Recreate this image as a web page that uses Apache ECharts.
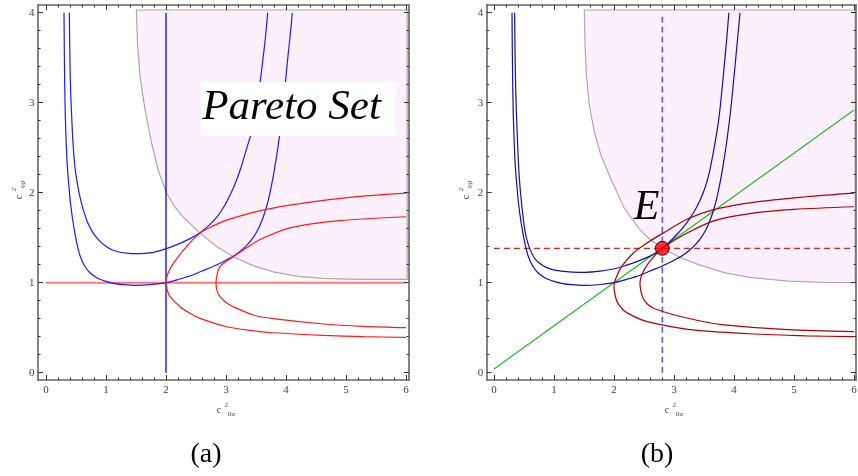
<!DOCTYPE html>
<html><head><meta charset="utf-8">
<script src="https://cdn.jsdelivr.net/npm/echarts/dist/echarts.min.js"></script>
<style>html,body{margin:0;padding:0;background:#fff}#c{width:858px;height:476px}</style>
</head><body><div id="c"></div>
<script>
const xMajorTicks = [0,1,2,3,4,5,6];
const xTickLabels = ['0','1','2','3','4','5','6'];
const xMinorTicks = [0.2,0.4,0.6,0.8,1.2,1.4,1.6,1.8,2.2,2.4,2.6,2.8,3.2,3.4,3.6,3.8,4.2,4.4,4.6,4.8,5.2,5.4,5.6,5.8];
const yMajorTicks = [0,1,2,3,4];
const yTickLabels = ['0','1','2','3','4'];
const yMinorTicks = [0.2,0.4,0.6,0.8,1.2,1.4,1.6,1.8,2.2,2.4,2.6,2.8,3.2,3.4,3.6,3.8];
const panelCaptions = ['(a)','(b)'];
const paretoLabel = 'Pareto Set';
const pointLabel = 'E';

// ---- panel (a) ----
const aPareto = [[1.506,4.03],[6.02,4.03],[6.02,1.037],[5.46,1.037],[5.0,1.04],[4.62,1.048],[4.2,1.07],[3.79,1.12],[3.45,1.19],[3.122,1.289],[2.85,1.40],[2.567,1.551],[2.30,1.72],[2.15,1.84],[2.006,2.0],[1.87,2.25],[1.76,2.55],[1.65,2.92],[1.567,3.29],[1.525,3.66],[1.506,4.03]];
const aBlueVertical = [[2,0],[2,4]];
const aRedHorizontal = [[0,1],[6,1]];
const aBlueInner = [[0.389,4.0],[0.398,3.5],[0.412,3.1],[0.428,2.85],[0.45,2.55],[0.48,2.3],[0.511,2.15],[0.56,1.97],[0.622,1.81],[0.70,1.66],[0.789,1.548],[0.90,1.46],[1.011,1.40],[1.122,1.36],[1.233,1.338],[1.37,1.326],[1.511,1.322],[1.65,1.326],[1.789,1.337],[2.006,1.378],[2.233,1.437],[2.40,1.49],[2.567,1.556],[2.72,1.64],[2.86,1.74],[2.98,1.86],[3.08,1.99],[3.17,2.13],[3.25,2.28],[3.33,2.46],[3.42,2.66],[3.49,2.88],[3.55,3.13],[3.60,3.40],[3.65,3.68],[3.695,4.0]];
const aBlueOuter = [[0.30,4.0],[0.305,3.6],[0.312,3.2],[0.322,2.85],[0.34,2.5],[0.36,2.25],[0.385,2.05],[0.405,1.9],[0.456,1.65],[0.51,1.45],[0.567,1.30],[0.65,1.18],[0.733,1.11],[0.86,1.05],[1.011,1.012],[1.15,0.99],[1.289,0.978],[1.511,0.970],[1.733,0.978],[2.006,1.0],[2.2,1.035],[2.4,1.075],[2.6,1.13],[2.85,1.20],[3.0,1.25],[3.122,1.295],[3.25,1.355],[3.36,1.425],[3.46,1.51],[3.54,1.60],[3.61,1.71],[3.67,1.83],[3.72,1.96],[3.77,2.12],[3.815,2.29],[3.86,2.48],[3.905,2.70],[3.95,2.95],[3.99,3.22],[4.03,3.50],[4.07,3.75],[4.105,4.0]];
const aRedInner = [[6.0,1.996],[5.178,1.956],[4.344,1.889],[3.62,1.807],[3.011,1.696],[2.75,1.62],[2.567,1.551],[2.344,1.404],[2.122,1.215],[2.03,1.1],[2.0,1.0],[2.03,0.9],[2.067,0.844],[2.233,0.733],[2.40,0.66],[2.567,0.604],[3.011,0.511],[3.40,0.47],[3.789,0.444],[4.622,0.415],[5.3,0.40],[6.0,0.393]];
const aRedOuter = [[6.0,1.733],[4.9,1.69],[4.067,1.61],[3.567,1.48],[3.35,1.39],[3.122,1.289],[3.0,1.235],[2.9,1.178],[2.855,1.10],[2.833,1.0],[2.855,0.90],[2.9,0.844],[3.0,0.78],[3.122,0.733],[3.456,0.641],[3.789,0.60],[4.622,0.541],[5.3,0.515],[6.0,0.50]];

// ---- panel (b) ----
const bPareto = [[1.506,4.03],[6.02,4.03],[6.02,1.0],[5.5,1.003],[4.9,1.018],[4.267,1.06],[3.85,1.11],[3.433,1.195],[3.1,1.28],[2.806,1.382],[2.6,1.48],[2.433,1.586],[2.17,1.83],[1.95,2.15],[1.78,2.42],[1.67,2.68],[1.59,2.97],[1.54,3.3],[1.515,3.68],[1.506,4.03]];
const bGreen = [[0,0.04],[6,2.92]];
const bPointE = [2.806,1.382];
const bRedDashed = [[0,1.382],[6,1.382]];
const bBlueDashed = [[2.806,0],[2.806,4]];
const bBlueInner = [[0.344,4.0],[0.35,3.6],[0.36,3.2],[0.372,2.92],[0.39,2.6],[0.41,2.3],[0.435,2.05],[0.47,1.82],[0.50,1.65],[0.539,1.50],[0.60,1.37],[0.67,1.28],[0.733,1.23],[0.87,1.17],[1.011,1.14],[1.25,1.12],[1.511,1.115],[1.767,1.128],[2.011,1.155],[2.2,1.193],[2.4,1.24],[2.6,1.295],[2.71,1.335],[2.806,1.382],[2.92,1.45],[3.04,1.53],[3.16,1.62],[3.27,1.72],[3.37,1.83],[3.45,1.94],[3.52,2.06],[3.58,2.20],[3.63,2.36],[3.68,2.54],[3.73,2.74],[3.77,2.95],[3.805,3.18],[3.84,3.43],[3.877,3.70],[3.915,4.0]];
const bBlueOuter = [[0.30,4.0],[0.305,3.6],[0.312,3.2],[0.322,2.85],[0.34,2.5],[0.36,2.25],[0.385,2.05],[0.405,1.9],[0.456,1.65],[0.51,1.45],[0.567,1.30],[0.65,1.18],[0.733,1.11],[0.86,1.05],[1.011,1.012],[1.15,0.99],[1.289,0.978],[1.511,0.970],[1.767,0.98],[2.0,1.0],[2.2,1.035],[2.4,1.075],[2.6,1.13],[2.85,1.20],[3.0,1.25],[3.122,1.295],[3.25,1.355],[3.36,1.425],[3.46,1.51],[3.54,1.60],[3.61,1.71],[3.67,1.83],[3.72,1.96],[3.77,2.12],[3.815,2.29],[3.86,2.48],[3.905,2.70],[3.95,2.95],[3.99,3.22],[4.03,3.50],[4.065,3.75],[4.1,4.0]];
const bRedOuter = [[6.0,1.996],[5.2,1.955],[4.344,1.895],[3.633,1.807],[3.233,1.71],[2.81,1.548],[2.5,1.42],[2.322,1.33],[2.15,1.20],[2.05,1.08],[2.0,0.956],[2.03,0.83],[2.067,0.77],[2.15,0.70],[2.233,0.659],[2.45,0.59],[2.678,0.548],[3.233,0.481],[3.8,0.45],[4.344,0.43],[5.2,0.41],[6.0,0.40]];
const bRedInner = [[6.0,1.844],[5.0,1.815],[4.344,1.775],[3.678,1.69],[3.211,1.549],[2.806,1.382],[2.6,1.24],[2.50,1.14],[2.45,1.06],[2.433,0.993],[2.45,0.90],[2.483,0.83],[2.56,0.76],[2.678,0.71],[3.011,0.641],[3.4,0.58],[3.789,0.535],[4.9,0.478],[6.0,0.456]];

const chart = echarts.init(document.getElementById('c'), null, {renderer:'canvas'});
const serif = '"Liberation Serif", "DejaVu Serif", serif';
const frameStyle = {color:'#666', width:1.6};
const tickStyle = {color:'#333', width:1};

// pixel frame of each panel -> data range just outside 0..6 / 0..4
const xRanges = [[-0.1333, 6.05], [-0.1217, 6.0333]];
const yRange = [-0.0811, 4.0856];

function axis(dim, grid, pos, ticks, len, showLine, labels){
  const r = dim === 'x' ? xRanges[grid] : yRange;
  const a = {type:'value', gridIndex:grid, position:pos, min:r[0], max:r[1], z:80,
    axisLine:{show:showLine, onZero:false, lineStyle:frameStyle},
    axisTick:{show:true, inside:true, length:len, customValues:ticks, lineStyle:tickStyle},
    minorTick:{show:false}, splitLine:{show:false}, minorSplitLine:{show:false},
    axisLabel:{show:false}};
  if (labels) {
    const names = dim === 'x' ? xTickLabels : yTickLabels;
    a.axisLabel = {show:true, customValues:ticks, margin: dim === 'x' ? 5 : 3.5, color:'#444',
      fontFamily:serif, fontSize:11, formatter: v => names[ticks.indexOf(v)]};
  }
  return a;
}
function xAxes(g){
  return [axis('x',g,'bottom',xMajorTicks,5,true,true), axis('x',g,'bottom',xMinorTicks,2.5,false,false),
          axis('x',g,'top',xMajorTicks,5,true,false), axis('x',g,'top',xMinorTicks,2.5,false,false)];
}
function yAxes(g){
  return [axis('y',g,'left',yMajorTicks,5,true,true), axis('y',g,'left',yMinorTicks,2.5,false,false),
          axis('y',g,'right',yMajorTicks,5,true,false), axis('y',g,'right',yMinorTicks,2.5,false,false)];
}
function line(data, xi, yi, color, width, type, z){
  return {type:'line', xAxisIndex:xi, yAxisIndex:yi, data:data, showSymbol:false, symbol:'none',
    smooth:0.3, clip:false, silent:true, lineStyle:{color:color, width:width, type:type||'solid'}, z:z||3};
}
function pareto(data, xi, yi, fill, stroke){
  return {type:'custom', xAxisIndex:xi, yAxisIndex:yi, data:data, clip:false, z:1, silent:true,
    encode:{x:0, y:1},
    renderItem: function(params, api){
      if (params.dataIndex !== 0) return null;
      const pts = data.map(p => api.coord(p));
      return {type:'polygon', shape:{points:pts}, style:{fill:fill, stroke:stroke, lineWidth:1.2}};
    }};
}
function axTitle(x, y, greek, rot){
  return {type:'text', x:x, y:y, rotation:rot||0, z:50,
    style:{text:'{c|c} {s|2}{b|0}{g|' + greek + '}', align:'center', verticalAlign:'middle',
      rich:{
        c:{fontFamily:serif, fontSize:10, fill:'#444', lineHeight:16, verticalAlign:'middle'},
        s:{fontFamily:serif, fontSize:7, fill:'#444', lineHeight:16, verticalAlign:'top'},
        b:{fontFamily:serif, fontSize:7, fill:'#444', lineHeight:16, verticalAlign:'bottom'},
        g:{fontFamily:serif, fontSize:7, fontStyle:'italic', fill:'#444', lineHeight:16, verticalAlign:'bottom'}
      }}};
}

const A = 0, B = 4; // first axis index of each panel
const option = {
  animation:false,
  backgroundColor:'#fff',
  grid:[
    {left:38, top:5, width:371, height:375, outerBoundsMode:'none', containLabel:false},
    {left:486.7, top:5, width:369.3, height:375, outerBoundsMode:'none', containLabel:false}
  ],
  xAxis: xAxes(0).concat(xAxes(1)),
  yAxis: yAxes(0).concat(yAxes(1)),
  series:[
    pareto(aPareto,A,A,'#fdf0fd','#a9a9a9'),
    line(aBlueVertical,A,A,'#0000ff',1.3),
    line(aRedHorizontal,A,A,'#ff7777',2),
    line(aBlueInner,A,A,'#1a1aff',1.2),
    line(aBlueOuter,A,A,'#1a1aff',1.2),
    line(aRedInner,A,A,'#ff1a1a',1.2),
    line(aRedOuter,A,A,'#ff1a1a',1.2),

    pareto(bPareto,B,B,'#fdf0fd','#b5a5b5'),
    line(bGreen,B,B,'#22bb22',1.2),
    line(bRedDashed,B,B,'#dd2222',1.3,[6,4]),
    line(bBlueDashed,B,B,'#5a5ae0',1.6,[6,4]),
    line(bBlueInner,B,B,'#1010b0',1.2),
    line(bBlueOuter,B,B,'#1010b0',1.2),
    line(bRedInner,B,B,'#b00000',1.2),
    line(bRedOuter,B,B,'#b00000',1.2),
    {type:'scatter', xAxisIndex:B, yAxisIndex:B, data:[bPointE], symbol:'circle', symbolSize:14,
      itemStyle:{color:'#ff0000', borderColor:'#000', borderWidth:1}, z:10, silent:true}
  ],
  graphic:[
    {type:'rect', z:70, shape:{x:201, y:82, width:195, height:54}, style:{fill:'#fff'}},
    {type:'text', z:71, x:291.5, y:108, style:{text:paretoLabel, font:'italic 43px ' + serif, fill:'#000', align:'center', verticalAlign:'middle'}},
    {type:'text', z:71, x:646.5, y:207.5, style:{text:pointLabel, font:'italic 42px ' + serif, fill:'#000', align:'center', verticalAlign:'middle'}},
    axTitle(226, 410, 'α'),
    axTitle(674, 410, 'α'),
    axTitle(19, 190, 'β', Math.PI/2),
    axTitle(466, 190, 'β', Math.PI/2),
    {type:'text', z:50, x:206, y:455, style:{text:panelCaptions[0], font:'28px ' + serif, fill:'#000', align:'center', verticalAlign:'middle'}},
    {type:'text', z:50, x:657, y:455, style:{text:panelCaptions[1], font:'28px ' + serif, fill:'#000', align:'center', verticalAlign:'middle'}}
  ]
};
chart.setOption(option);
</script></body></html>
